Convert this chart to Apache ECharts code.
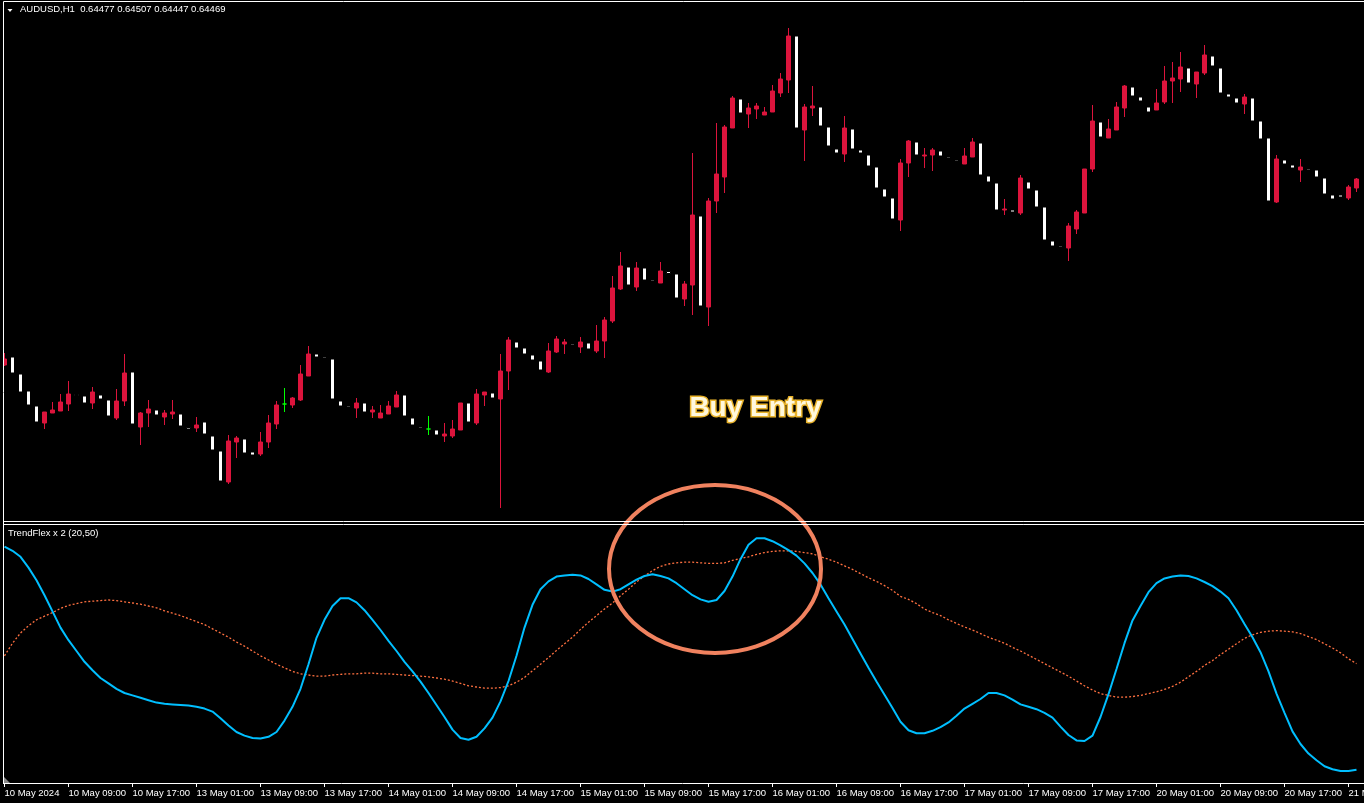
<!DOCTYPE html>
<html>
<head>
<meta charset="utf-8">
<script src="https://cdn.jsdelivr.net/npm/echarts@6/dist/echarts.min.js"></script>
<style>
  html, body { margin: 0; padding: 0; background: #000; }
  #chart { width: 1364px; height: 803px; }
</style>
</head>
<body>
<div id="chart"></div>
<script>
// AUDUSD H1, 10 May 2024 01:00 → 21 May 02:00
const opens = [
  0.66510, 0.66526, 0.66492, 0.66458, 0.66428, 0.66394, 0.66414, 0.66418, 0.66432, 0.66451,
  0.66448, 0.66434, 0.66450, 0.66440, 0.66404, 0.66438, 0.66496, 0.66386, 0.66414, 0.66420,
  0.66406, 0.66412, 0.66412, 0.66385, 0.66384, 0.66396, 0.66368, 0.66338, 0.66276, 0.66356,
  0.66362, 0.66336, 0.66332, 0.66356, 0.66392, 0.66432, 0.66430, 0.66440, 0.66488, 0.66532,
  0.66526, 0.66522, 0.66438, 0.66428, 0.66424, 0.66434, 0.66416, 0.66404, 0.66412, 0.66426,
  0.66450, 0.66404, 0.66386, 0.66382, 0.66380, 0.66368, 0.66368, 0.66380, 0.66434, 0.66394,
  0.66450, 0.66454, 0.66442, 0.66498, 0.66556, 0.66544, 0.66530, 0.66518, 0.66496, 0.66536,
  0.66552, 0.66552, 0.66546, 0.66554, 0.66538, 0.66558, 0.66598, 0.66662, 0.66706, 0.66666,
  0.66704, 0.66680, 0.66674, 0.66697, 0.66692, 0.66642, 0.66670, 0.66808, 0.66626, 0.66838,
  0.66886, 0.66984, 0.67042, 0.67012, 0.67022, 0.67010, 0.67016, 0.67054, 0.67080, 0.67168,
  0.66980, 0.67024, 0.67026, 0.66986, 0.66942, 0.66932, 0.66982, 0.66940, 0.66930, 0.66906,
  0.66862, 0.66844, 0.66800, 0.66914, 0.66956, 0.66928, 0.66930, 0.66938, 0.66926, 0.66920,
  0.66912, 0.66926, 0.66954, 0.66888, 0.66874, 0.66820, 0.66820, 0.66814, 0.66876, 0.66860,
  0.66826, 0.66758, 0.66748, 0.66744, 0.66782, 0.66814, 0.66902, 0.66996, 0.66964, 0.66980,
  0.67024, 0.67066, 0.67046, 0.67026, 0.67020, 0.67036, 0.67078, 0.67082, 0.67104, 0.67072,
  0.67094, 0.67128, 0.67104, 0.67052, 0.67044, 0.67032, 0.67044, 0.66998, 0.66964, 0.66836,
  0.66920, 0.66910, 0.66900, 0.66902, 0.66900, 0.66884, 0.66850, 0.66850, 0.66844, 0.66864
];
const highs = [
  0.66534, 0.66526, 0.66492, 0.66458, 0.66428, 0.66416, 0.66436, 0.66452, 0.66478, 0.66451,
  0.66448, 0.66466, 0.66450, 0.66440, 0.66462, 0.66532, 0.66496, 0.66416, 0.66440, 0.66420,
  0.66420, 0.66440, 0.66412, 0.66385, 0.66406, 0.66396, 0.66368, 0.66338, 0.66370, 0.66368,
  0.66362, 0.66336, 0.66376, 0.66410, 0.66438, 0.66464, 0.66446, 0.66510, 0.66548, 0.66532,
  0.66526, 0.66522, 0.66438, 0.66428, 0.66444, 0.66434, 0.66428, 0.66430, 0.66438, 0.66458,
  0.66450, 0.66404, 0.66386, 0.66408, 0.66380, 0.66394, 0.66400, 0.66434, 0.66434, 0.66462,
  0.66456, 0.66454, 0.66532, 0.66566, 0.66556, 0.66544, 0.66530, 0.66518, 0.66554, 0.66568,
  0.66562, 0.66552, 0.66566, 0.66554, 0.66590, 0.66606, 0.66688, 0.66736, 0.66706, 0.66716,
  0.66704, 0.66680, 0.66716, 0.66697, 0.66692, 0.66678, 0.66934, 0.66808, 0.66844, 0.66994,
  0.66990, 0.67048, 0.67042, 0.67034, 0.67034, 0.67026, 0.67070, 0.67094, 0.67184, 0.67168,
  0.67032, 0.67068, 0.67026, 0.66986, 0.66942, 0.67008, 0.66982, 0.66940, 0.66930, 0.66906,
  0.66862, 0.66844, 0.66922, 0.66960, 0.66956, 0.66944, 0.66944, 0.66938, 0.66926, 0.66920,
  0.66944, 0.66964, 0.66954, 0.66888, 0.66874, 0.66842, 0.66820, 0.66890, 0.66876, 0.66860,
  0.66826, 0.66758, 0.66748, 0.66794, 0.66820, 0.66902, 0.67030, 0.66996, 0.67002, 0.67036,
  0.67070, 0.67066, 0.67046, 0.67026, 0.67062, 0.67108, 0.67116, 0.67136, 0.67104, 0.67096,
  0.67150, 0.67128, 0.67104, 0.67052, 0.67044, 0.67052, 0.67044, 0.66998, 0.66964, 0.66930,
  0.66920, 0.66910, 0.66922, 0.66902, 0.66900, 0.66884, 0.66850, 0.66850, 0.66870, 0.66884
];
const lows = [
  0.66508, 0.66494, 0.66456, 0.66430, 0.66396, 0.66382, 0.66414, 0.66418, 0.66418, 0.66449,
  0.66434, 0.66422, 0.66442, 0.66408, 0.66400, 0.66428, 0.66392, 0.66350, 0.66386, 0.66410,
  0.66390, 0.66402, 0.66388, 0.66382, 0.66376, 0.66372, 0.66340, 0.66278, 0.66272, 0.66324,
  0.66334, 0.66330, 0.66328, 0.66344, 0.66382, 0.66416, 0.66424, 0.66438, 0.66488, 0.66526,
  0.66524, 0.66442, 0.66428, 0.66426, 0.66404, 0.66416, 0.66404, 0.66404, 0.66412, 0.66426,
  0.66408, 0.66390, 0.66384, 0.66370, 0.66370, 0.66356, 0.66364, 0.66380, 0.66396, 0.66390,
  0.66428, 0.66444, 0.66224, 0.66460, 0.66544, 0.66532, 0.66520, 0.66500, 0.66494, 0.66534,
  0.66532, 0.66550, 0.66534, 0.66542, 0.66534, 0.66524, 0.66594, 0.66660, 0.66670, 0.66658,
  0.66680, 0.66678, 0.66674, 0.66693, 0.66644, 0.66628, 0.66610, 0.66628, 0.66588, 0.66814,
  0.66854, 0.66984, 0.67014, 0.66984, 0.67002, 0.67010, 0.67016, 0.67046, 0.67054, 0.66984,
  0.66918, 0.67008, 0.66988, 0.66948, 0.66934, 0.66916, 0.66942, 0.66934, 0.66908, 0.66864,
  0.66846, 0.66802, 0.66778, 0.66886, 0.66930, 0.66904, 0.66898, 0.66928, 0.66924, 0.66918,
  0.66912, 0.66926, 0.66890, 0.66876, 0.66820, 0.66810, 0.66816, 0.66810, 0.66862, 0.66826,
  0.66760, 0.66748, 0.66746, 0.66718, 0.66772, 0.66814, 0.66896, 0.66966, 0.66964, 0.66980,
  0.67006, 0.67048, 0.67038, 0.67016, 0.67020, 0.67032, 0.67034, 0.67056, 0.67074, 0.67044,
  0.67090, 0.67108, 0.67054, 0.67046, 0.67034, 0.67012, 0.66998, 0.66962, 0.66838, 0.66834,
  0.66912, 0.66904, 0.66876, 0.66900, 0.66886, 0.66852, 0.66842, 0.66846, 0.66840, 0.66856
];
const closes = [
  0.66522, 0.66494, 0.66456, 0.66430, 0.66396, 0.66416, 0.66420, 0.66436, 0.66452, 0.66449,
  0.66434, 0.66456, 0.66442, 0.66408, 0.66438, 0.66494, 0.66392, 0.66414, 0.66422, 0.66410,
  0.66414, 0.66416, 0.66388, 0.66382, 0.66390, 0.66372, 0.66340, 0.66278, 0.66358, 0.66364,
  0.66334, 0.66330, 0.66356, 0.66394, 0.66430, 0.66432, 0.66444, 0.66492, 0.66532, 0.66526,
  0.66524, 0.66442, 0.66428, 0.66426, 0.66434, 0.66416, 0.66420, 0.66414, 0.66428, 0.66450,
  0.66408, 0.66390, 0.66384, 0.66382, 0.66370, 0.66372, 0.66382, 0.66434, 0.66396, 0.66452,
  0.66456, 0.66444, 0.66498, 0.66560, 0.66544, 0.66532, 0.66520, 0.66500, 0.66538, 0.66562,
  0.66556, 0.66550, 0.66556, 0.66542, 0.66558, 0.66600, 0.66664, 0.66708, 0.66670, 0.66704,
  0.66680, 0.66678, 0.66698, 0.66693, 0.66644, 0.66672, 0.66810, 0.66628, 0.66838, 0.66892,
  0.66986, 0.67044, 0.67014, 0.67024, 0.67028, 0.67016, 0.67058, 0.67082, 0.67168, 0.66984,
  0.67026, 0.67028, 0.66988, 0.66948, 0.66934, 0.66984, 0.66942, 0.66934, 0.66908, 0.66864,
  0.66846, 0.66802, 0.66914, 0.66958, 0.66930, 0.66930, 0.66940, 0.66928, 0.66924, 0.66918,
  0.66928, 0.66956, 0.66890, 0.66876, 0.66820, 0.66822, 0.66816, 0.66884, 0.66862, 0.66826,
  0.66760, 0.66748, 0.66746, 0.66788, 0.66816, 0.66902, 0.66998, 0.66966, 0.66982, 0.67026,
  0.67068, 0.67048, 0.67038, 0.67016, 0.67034, 0.67078, 0.67084, 0.67106, 0.67074, 0.67096,
  0.67130, 0.67108, 0.67054, 0.67046, 0.67034, 0.67046, 0.66998, 0.66962, 0.66838, 0.66922,
  0.66912, 0.66904, 0.66906, 0.66900, 0.66886, 0.66852, 0.66842, 0.66846, 0.66866, 0.66882
];

// TrendFlex x 2 (20,50): fast = cyan, slow = orange dotted
const trendFlexFast = [
  1.79, 1.72, 1.62, 1.44, 1.23, 0.98, 0.71, 0.44, 0.23, 0.05,
  -0.13, -0.27, -0.40, -0.49, -0.58, -0.65, -0.69, -0.73, -0.77, -0.81,
  -0.83, -0.84, -0.85, -0.86, -0.88, -0.91, -0.96, -1.07, -1.19, -1.30,
  -1.36, -1.40, -1.41, -1.38, -1.30, -1.11, -0.88, -0.58, -0.17, 0.27,
  0.57, 0.80, 0.93, 0.93, 0.86, 0.73, 0.57, 0.40, 0.22, 0.05,
  -0.13, -0.29, -0.46, -0.65, -0.85, -1.05, -1.26, -1.40, -1.43, -1.38,
  -1.24, -1.06, -0.79, -0.45, -0.03, 0.44, 0.82, 1.08, 1.21, 1.29,
  1.31, 1.32, 1.31, 1.25, 1.16, 1.07, 1.04, 1.08, 1.16, 1.24,
  1.30, 1.33, 1.30, 1.26, 1.18, 1.08, 0.98, 0.91, 0.87, 0.90,
  1.05, 1.29, 1.58, 1.82, 1.93, 1.93, 1.88, 1.81, 1.73, 1.64,
  1.51, 1.35, 1.16, 0.93, 0.71, 0.49, 0.25, 0.01, -0.23, -0.46,
  -0.68, -0.90, -1.13, -1.27, -1.32, -1.32, -1.28, -1.22, -1.14, -1.03,
  -0.91, -0.83, -0.75, -0.65, -0.65, -0.69, -0.76, -0.84, -0.88, -0.92,
  -0.98, -1.06, -1.21, -1.35, -1.44, -1.45, -1.36, -1.05, -0.67, -0.25,
  0.18, 0.56, 0.80, 1.03, 1.18, 1.26, 1.29, 1.31, 1.30, 1.26,
  1.20, 1.13, 1.04, 0.93, 0.73, 0.50, 0.28, 0.03, -0.29, -0.66,
  -0.98, -1.29, -1.50, -1.66, -1.77, -1.87, -1.92, -1.95, -1.95, -1.93
];
const trendFlexSlow = [
  -0.03, 0.18, 0.35, 0.47, 0.57, 0.63, 0.69, 0.76, 0.81, 0.84,
  0.87, 0.88, 0.89, 0.90, 0.89, 0.87, 0.85, 0.83, 0.80, 0.77,
  0.72, 0.68, 0.64, 0.59, 0.54, 0.49, 0.42, 0.35, 0.28, 0.20,
  0.13, 0.05, -0.03, -0.10, -0.17, -0.23, -0.29, -0.33, -0.35, -0.37,
  -0.37, -0.35, -0.34, -0.33, -0.33, -0.32, -0.32, -0.33, -0.33, -0.34,
  -0.35, -0.36, -0.37, -0.38, -0.40, -0.42, -0.45, -0.49, -0.53, -0.55,
  -0.57, -0.57, -0.56, -0.53, -0.47, -0.39, -0.28, -0.17, -0.06, 0.06,
  0.17, 0.28, 0.41, 0.53, 0.64, 0.75, 0.85, 0.97, 1.08, 1.20,
  1.30, 1.39, 1.46, 1.50, 1.52, 1.53, 1.53, 1.52, 1.51, 1.51,
  1.52, 1.56, 1.59, 1.62, 1.66, 1.69, 1.71, 1.72, 1.72, 1.71,
  1.69, 1.67, 1.62, 1.58, 1.53, 1.47, 1.41, 1.34, 1.27, 1.21,
  1.14, 1.06, 0.96, 0.91, 0.84, 0.75, 0.69, 0.64, 0.57, 0.51,
  0.45, 0.40, 0.34, 0.28, 0.23, 0.18, 0.11, 0.05, -0.02, -0.09,
  -0.16, -0.23, -0.30, -0.37, -0.45, -0.53, -0.60, -0.66, -0.69, -0.72,
  -0.72, -0.71, -0.69, -0.66, -0.63, -0.59, -0.54, -0.47, -0.38, -0.29,
  -0.19, -0.11, -0.01, 0.08, 0.17, 0.26, 0.32, 0.36, 0.38, 0.39,
  0.38, 0.37, 0.34, 0.29, 0.24, 0.17, 0.10, 0.02, -0.08, -0.16
];

// one label every 8 bars
const tickLabels = [
  '10 May 2024', '10 May 09:00', '10 May 17:00', '13 May 01:00', '13 May 09:00', '13 May 17:00',
  '14 May 01:00', '14 May 09:00', '14 May 17:00', '15 May 01:00', '15 May 09:00', '15 May 17:00',
  '16 May 01:00', '16 May 09:00', '16 May 17:00', '17 May 01:00', '17 May 09:00', '17 May 17:00',
  '20 May 01:00', '20 May 09:00', '20 May 17:00', '21 May 01:00'
];

// trading hours shown (weekend skipped); one extra slot past the last bar
const sessions = [
  ['10 May', 1, 23], ['13 May', 0, 23], ['14 May', 0, 23], ['15 May', 0, 23],
  ['16 May', 0, 23], ['17 May', 0, 23], ['20 May', 0, 23], ['21 May', 0, 3]
];
const categories = [];
sessions.forEach(([day, from, to]) => {
  for (let h = from; h <= to; h++) categories.push(day + ' ' + String(h).padStart(2, '0') + ':00');
});

// echarts candlestick order: [open, close, low, high]
const candles = opens.map((o, i) => [o, closes[i], lows[i], highs[i]]);

const FONT = 'Liberation Sans';
const BAND = 8;                       // px per bar, like the terminal's zoom level
const plotW = BAND * categories.length;

const chart = echarts.init(document.getElementById('chart'), null, { renderer: 'canvas' });
chart.setOption({
  animation: false,
  backgroundColor: '#000000',
  grid: [
    { left: 0.5, top: 3, width: plotW, height: 518, outerBoundsMode: 'none', containLabel: false },
    { left: 0.5, top: 525, width: plotW, height: 258, outerBoundsMode: 'none', containLabel: false }
  ],
  xAxis: [
    { type: 'category', gridIndex: 0, data: categories, boundaryGap: true, show: false },
    {
      type: 'category', gridIndex: 1, data: categories, boundaryGap: true,
      axisLine: { show: true, onZero: false, lineStyle: { color: '#ffffff', width: 1 } },
      axisTick: { show: true, alignWithLabel: true, interval: 7, length: 4, lineStyle: { color: '#ffffff' } },
      axisLabel: {
        show: true, interval: 7, color: '#ffffff', fontSize: 9.5, fontFamily: FONT,
        align: 'left', margin: 5,
        formatter: (v, i) => tickLabels[i / 8] || ''
      },
      splitLine: { show: false }
    }
  ],
  yAxis: [
    { type: 'value', gridIndex: 0, min: 0.66198, max: 0.67234, show: false, splitLine: { show: false } },
    { type: 'value', gridIndex: 1, min: -2.15, max: 2.15, show: false, splitLine: { show: false } }
  ],
  series: [
    {
      type: 'candlestick', xAxisIndex: 0, yAxisIndex: 0, data: candles, barWidth: 5,
      itemStyle: {
        color: '#DC143C', color0: '#FFFFFF',
        borderColor: '#DC143C', borderColor0: '#000000', borderColorDoji: '#00FF00',
        borderWidth: 1
      }
    },
    {
      type: 'line', xAxisIndex: 1, yAxisIndex: 1, data: trendFlexSlow, showSymbol: false,
      lineStyle: { color: '#FF7040', width: 1.3, type: [2, 2] }, z: 2
    },
    {
      type: 'line', xAxisIndex: 1, yAxisIndex: 1, data: trendFlexFast, showSymbol: false,
      lineStyle: { color: '#00BFFF', width: 2 }, z: 3
    }
  ],
  graphic: [
    { type: 'rect', shape: { x: 0, y: 0, width: 3, height: 803 }, style: { fill: '#000000' }, z: 100 },
    { type: 'line', shape: { x1: 3.5, y1: 1.5, x2: 1364, y2: 1.5 }, style: { stroke: '#ffffff', lineWidth: 1 }, z: 101 },
    { type: 'line', shape: { x1: 3.5, y1: 1.5, x2: 3.5, y2: 783.5 }, style: { stroke: '#ffffff', lineWidth: 1 }, z: 101 },
    { type: 'line', shape: { x1: 3.5, y1: 521.5, x2: 1364, y2: 521.5 }, style: { stroke: '#ffffff', lineWidth: 1 }, z: 101 },
    { type: 'line', shape: { x1: 3.5, y1: 524.5, x2: 1364, y2: 524.5 }, style: { stroke: '#ffffff', lineWidth: 1 }, z: 101 },
    { type: 'polygon', shape: { points: [[7.5, 9], [12.5, 9], [10, 12]] }, style: { fill: '#ffffff' }, z: 101 },
    { type: 'polygon', shape: { points: [[4, 777], [4, 783], [10, 783]] }, style: { fill: '#8a8a8a' }, z: 101 },
    {
      type: 'text', x: 20, y: 9.5, z: 101,
      style: { text: 'AUDUSD,H1  0.64477 0.64507 0.64447 0.64469', fill: '#ffffff', fontSize: 9.5, fontFamily: FONT, align: 'left', verticalAlign: 'middle' }
    },
    {
      type: 'text', x: 8, y: 533.5, z: 101,
      style: { text: 'TrendFlex x 2 (20,50)', fill: '#ffffff', fontSize: 9.5, fontFamily: FONT, align: 'left', verticalAlign: 'middle' }
    },
    {
      type: 'ellipse', shape: { cx: 715, cy: 569, rx: 106, ry: 84 }, z: 50,
      style: { fill: 'none', stroke: '#F0825F', lineWidth: 4 }
    },
    {
      type: 'text', x: 755.5, y: 408, z: 102,
      style: {
        text: 'Buy Entry', fill: '#FFF8DD', stroke: '#E8B22A', lineWidth: 3, strokeFirst: true,
        fontSize: 28, fontWeight: 'bold', fontFamily: FONT, align: 'center', verticalAlign: 'middle'
      }
    }
  ]
});
</script>
</body>
</html>
